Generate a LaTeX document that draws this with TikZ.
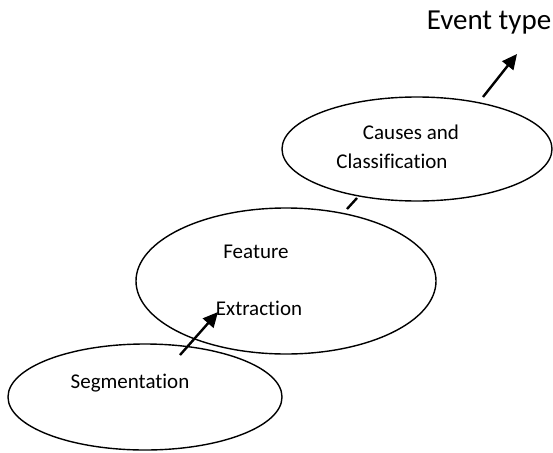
\documentclass[tikz,border=0pt]{standalone}
\usepackage{fontspec}
\setmainfont{Carlito}[RawFeature={-liga;-clig}]
\usetikzlibrary{shapes.geometric,arrows.meta}
\begin{document}
\begin{tikzpicture}[x=1pt,y=-1pt,
  stage/.style={draw=black,line width=1.4pt,ellipse,inner sep=0pt},
  lbl/.style={anchor=base,inner sep=0pt,font=\fontsize{21}{25}\selectfont},
  big/.style={anchor=base,inner sep=0pt,font=\fontsize{29}{34}\selectfont},
  conn/.style={line width=2.4pt,-{Triangle[length=15pt,width=14pt]}},
  plain/.style={line width=2.4pt}]
\useasboundingbox (0,0) rectangle (553,452);
% ellipses
\node[stage,minimum width=274pt,minimum height=106pt] (seg) at (145,397) {};
\node[stage,minimum width=300pt,minimum height=146pt] (feat) at (286,281) {};
\node[stage,minimum width=270pt,minimum height=104pt] (cls) at (417,149) {};
% labels
\node[lbl] (tseg) at (130,388) {Segmentation};
\node[lbl] (tfeat1) at (256,258) {Feature};
\node[lbl] (tfeat2) at (259,315) {Extraction};
\node[lbl] (tcls1) at (411,139) {Causes and};
\node[lbl] (tcls2) at (392,168) {Classification};
\node[big] (evt) at (489,30) {Event type};
% connector ends
\coordinate (a1s) at (180,355);
\coordinate (a1e) at (218,312);
\coordinate (l2s) at (347,209);
\coordinate (l2e) at (357,198);
\coordinate (a3s) at (483,97);
\coordinate (a3e) at (517,54);
\draw[conn] (a1s) -- (a1e);
\draw[plain] (l2s) -- (l2e);
\draw[conn] (a3s) -- (a3e);
\end{tikzpicture}
\end{document}
